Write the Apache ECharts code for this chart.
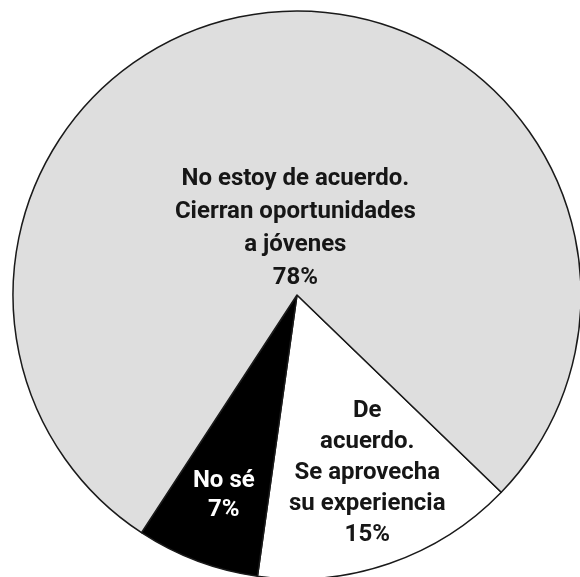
<!DOCTYPE html>
<html>
<head>
<meta charset="utf-8">
<script src="https://cdn.jsdelivr.net/npm/echarts@6/dist/echarts.min.js"></script>
<style>
html,body{margin:0;padding:0;background:#fff;}
#chart{width:580px;height:577px;}
</style>
</head>
<body>
<div id="chart"></div>
<script>
// Data
var categories = ['De acuerdo.\nSe aprovecha\nsu experiencia', 'No sé', 'No estoy de acuerdo.\nCierran oportunidades\na jóvenes'];
var labelTexts = ['De\nacuerdo.\nSe aprovecha\nsu experiencia', 'No sé', 'No estoy de acuerdo.\nCierran oportunidades\na jóvenes'];
var values = [15, 7, 78];

// Styles
var colors = ['#ffffff', '#000000', '#dedede'];
var textColors = ['#161616', '#ffffff', '#161616'];
var lineHeights = [31, 29, 33];
var labelRadiusFrac = [0.675, 0.75, 0.235];
var labelAngleShift = [2.5, 0.5, -5];
var center = [297, 295];
var radius = 284;
var startAngle = 316;

var total = values.reduce(function (a, b) { return a + b; }, 0);
var midAngles = [];
(function () {
  var a = startAngle;
  for (var i = 0; i < values.length; i++) {
    var span = values[i] / total * 360;
    midAngles.push(a - span / 2);
    a -= span;
  }
})();

var chart = echarts.init(document.getElementById('chart'), null, { renderer: 'canvas' });
chart.setOption({
  animation: false,
  series: [{
    type: 'pie',
    center: center,
    radius: [0, radius],
    startAngle: startAngle,
    clockwise: true,
    avoidLabelOverlap: false,
    itemStyle: { borderColor: '#1a1a1a', borderWidth: 1.5 },
    emphasis: { disabled: true },
    label: {
      show: true,
      position: 'inside',
      fontFamily: 'Roboto',
      fontWeight: 'bold',
      fontSize: 24,
      align: 'center',
      verticalAlign: 'middle'
    },
    labelLine: { show: false },
    labelLayout: function (params) {
      var i = params.dataIndex;
      var ang = (midAngles[i] + labelAngleShift[i]) * Math.PI / 180;
      var r = radius * labelRadiusFrac[i];
      return { x: center[0] + r * Math.cos(ang), y: center[1] - r * Math.sin(ang) };
    },
    data: values.map(function (v, i) {
      return {
        name: categories[i],
        value: v,
        itemStyle: { color: colors[i] },
        label: {
          color: textColors[i],
          lineHeight: lineHeights[i],
          formatter: labelTexts[i] + '\n' + v + '%'
        }
      };
    })
  }]
});
</script>
</body>
</html>
